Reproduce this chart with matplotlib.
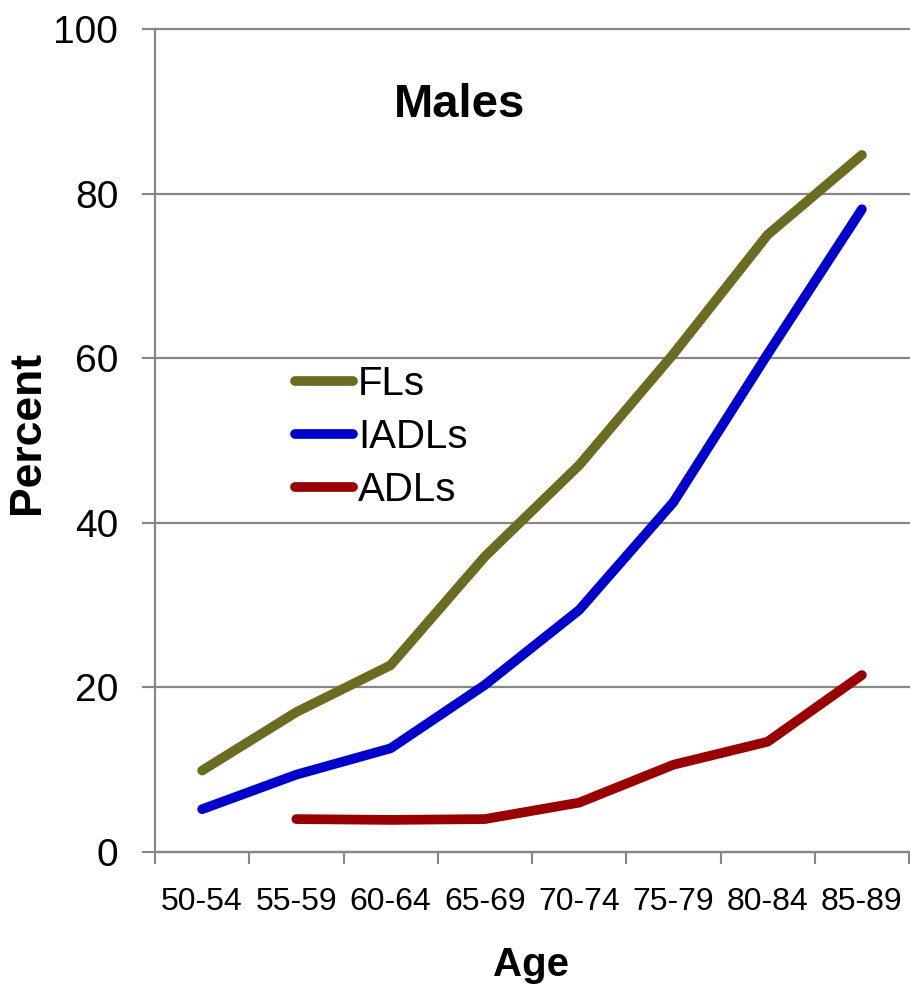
import matplotlib
matplotlib.use("Agg")
import matplotlib.pyplot as plt

plt.rcParams['font.family'] = ['Liberation Sans', 'DejaVu Sans']

ages = ['50-54', '55-59', '60-64', '65-69', '70-74', '75-79', '80-84', '85-89']
fls = [9.9, 17.0, 22.7, 35.9, 47.0, 60.5, 75.0, 84.7]
iadls = [5.2, 9.4, 12.6, 20.3, 29.4, 42.5, 60.5, 78.1]
# no value for the first age group
adls = [None, 4.0, 3.9, 4.0, 6.0, 10.6, 13.4, 21.5]

colors = ['#6b6b22', '#0000cc', '#990000']
labels = ['FLs', 'IADLs', 'ADLs']
grid_col = '#868686'

fig = plt.figure(figsize=(9.10, 9.89), dpi=100)
ax = fig.add_axes([155/910, 1-852/989, 754/910, (852-29)/989])

x = list(range(len(ages)))
for vals, c, lab in zip([fls, iadls, adls], colors, labels):
    xs = [i for i, v in zip(x, vals) if v is not None]
    ys = [v for v in vals if v is not None]
    ax.plot(xs, ys, color=c, lw=7, solid_capstyle='round',
            solid_joinstyle='round', label=lab, zorder=3)

ax.set_xlim(-0.5, len(ages) - 0.5)
ax.set_ylim(0, 100)
ax.set_yticks([0, 20, 40, 60, 80, 100])
ax.yaxis.grid(True, color=grid_col, lw=1.6)
for gl in ax.get_ygridlines():
    gl.set_clip_on(False)
ax.set_axisbelow(True)

# ticks on the category boundaries, labels in the middle
ax.set_xticks([i - 0.5 for i in range(len(ages) + 1)])
ax.set_xticklabels([])
ax.set_xticks(x, minor=True)
ax.set_xticklabels(ages, minor=True, fontsize=23)
ax.tick_params(axis='x', which='major', direction='out', length=8.6,
               width=1.5, color=grid_col)
ax.tick_params(axis='x', which='minor', length=0, pad=25)
ax.tick_params(axis='y', direction='out', length=9.4, width=1.5,
               color=grid_col, labelsize=28, pad=17)

for s in ['top', 'right']:
    ax.spines[s].set_visible(False)
for s in ['left', 'bottom']:
    ax.spines[s].set_color(grid_col)
    ax.spines[s].set_linewidth(1.6)

ax.text(0.4045, 0.908, 'Males', transform=ax.transAxes, fontsize=34,
        fontweight='bold', ha='center', va='center')

ax.legend(loc='center left', bbox_to_anchor=((295-155)/754, (852-437)/823),
          frameon=False, fontsize=29, handlelength=1.45, handletextpad=0.12,
          labelspacing=0.37, borderpad=0, borderaxespad=0)

fig.text(28/910, 1-433/989, 'Percent', rotation=90, fontsize=32,
         fontweight='bold', ha='center', va='center')
fig.text(531/910, 1-965/989, 'Age', fontsize=29, fontweight='bold',
         ha='center', va='center')

fig.savefig('out.png', dpi=100)
